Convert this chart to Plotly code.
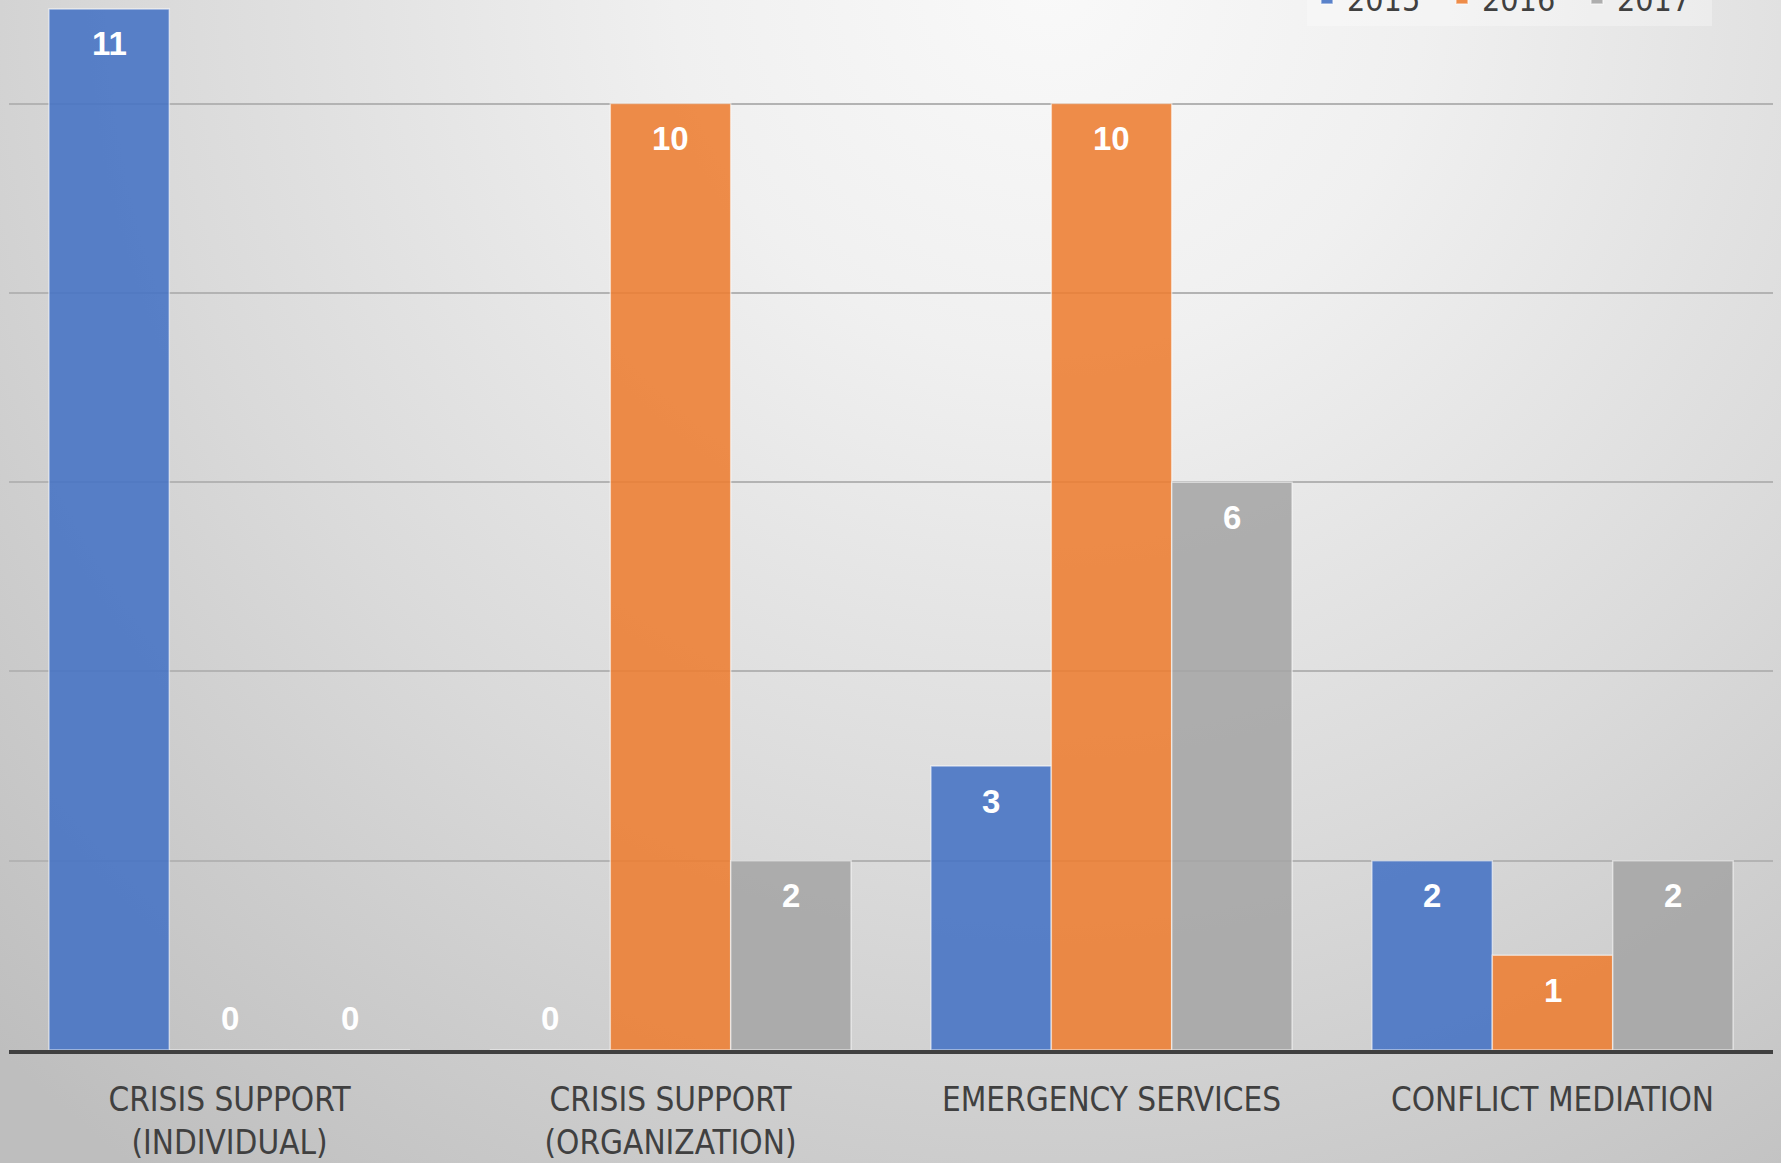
import base64
import plotly.graph_objects as go

# ---- data ----
categories = [
    "CRISIS SUPPORT<br>(INDIVIDUAL)",
    "CRISIS SUPPORT<br>(ORGANIZATION)",
    "EMERGENCY SERVICES",
    "CONFLICT MEDIATION",
]
years = ["2015", "2016", "2017"]
values_2015 = [11, 0, 3, 2]
values_2016 = [0, 10, 10, 1]
values_2017 = [0, 2, 6, 2]
series = [values_2015, values_2016, values_2017]
colors = ["rgba(68,114,196,0.88)", "rgba(237,125,49,0.88)", "rgba(165,165,165,0.88)"]

# ---- page geometry ----
W, H = 1781, 1163
ML, MR, MT, MB = 9, 8, 0, 113
PLOT_W = W - ML - MR
PLOT_H = H - MT - MB
BARGAP = 0.181
Y_TOP = 11.094

# soft light-gray radial backdrop
svg = f"""<svg xmlns='http://www.w3.org/2000/svg' width='{W}' height='{H}' viewBox='0 0 {W} {H}' preserveAspectRatio='none'>
<defs><radialGradient id='g' gradientUnits='userSpaceOnUse' cx='1050' cy='-20' r='1500'>
<stop offset='0' stop-color='#f9f9f9'/>
<stop offset='0.25' stop-color='#f0f0f0'/>
<stop offset='0.6' stop-color='#dadada'/>
<stop offset='1' stop-color='#bebebe'/>
</radialGradient></defs>
<rect width='{W}' height='{H}' fill='url(#g)'/></svg>"""
bg_uri = "data:image/svg+xml;base64," + base64.b64encode(svg.encode()).decode()

LABEL_FONT = "DejaVu Sans Condensed, Liberation Sans, sans-serif"

fig = go.Figure()
for name, vals, col in zip(years, series, colors):
    fig.add_trace(go.Bar(
        name=name, x=categories, y=vals,
        marker=dict(color=col, line=dict(color="rgba(255,255,255,0.55)", width=1.5)),
        hoverinfo="x+y+name",
    ))

# value labels: inside near bar top, zeros sit just above the baseline
bar_px = PLOT_W / len(categories) * (1 - BARGAP) / len(years)
annotations = []
for i, vals in enumerate(series):
    for cat, v in zip(categories, vals):
        annotations.append(dict(
            x=cat, y=v, xref="x", yref="y", text=f"<b>{v}</b>", showarrow=False,
            xshift=(i - 1) * bar_px, yshift=-35 if v > 0 else 32,
            font=dict(family="Liberation Sans", size=33, color="white"),
            xanchor="center", yanchor="middle",
        ))

fig.update_layout(
    width=W, height=H,
    margin=dict(l=ML, r=MR, t=MT, b=MB, autoexpand=False),
    paper_bgcolor="rgba(0,0,0,0)", plot_bgcolor="rgba(0,0,0,0)",
    barmode="group", bargap=BARGAP, bargroupgap=0,
    images=[dict(source=bg_uri, xref="paper", yref="paper",
                 x=-ML / PLOT_W, y=1 + MT / PLOT_H, sizex=W / PLOT_W, sizey=H / PLOT_H,
                 xanchor="left", yanchor="top", sizing="stretch", layer="below")],
    annotations=annotations,
    showlegend=True,
    legend=dict(orientation="h", x=0.9654, xanchor="right", y=0.9755, yanchor="bottom",
                bgcolor="rgba(255,255,255,0.3)", borderwidth=0,
                entrywidth=90, entrywidthmode="pixels",
                font=dict(family=LABEL_FONT, size=32, color="#404040"),
                traceorder="normal"),
    xaxis=dict(type="category", showgrid=False, showline=True, linecolor="#404040", linewidth=4,
               ticks="", ticklabelstandoff=17,
               tickfont=dict(family=LABEL_FONT, size=33, color="#404040")),
    yaxis=dict(range=[0, Y_TOP], dtick=2, showticklabels=False, showgrid=True,
               gridcolor="#b3b3b3", gridwidth=1.5, zeroline=False, showline=False),
)

fig.write_html("out.html")
